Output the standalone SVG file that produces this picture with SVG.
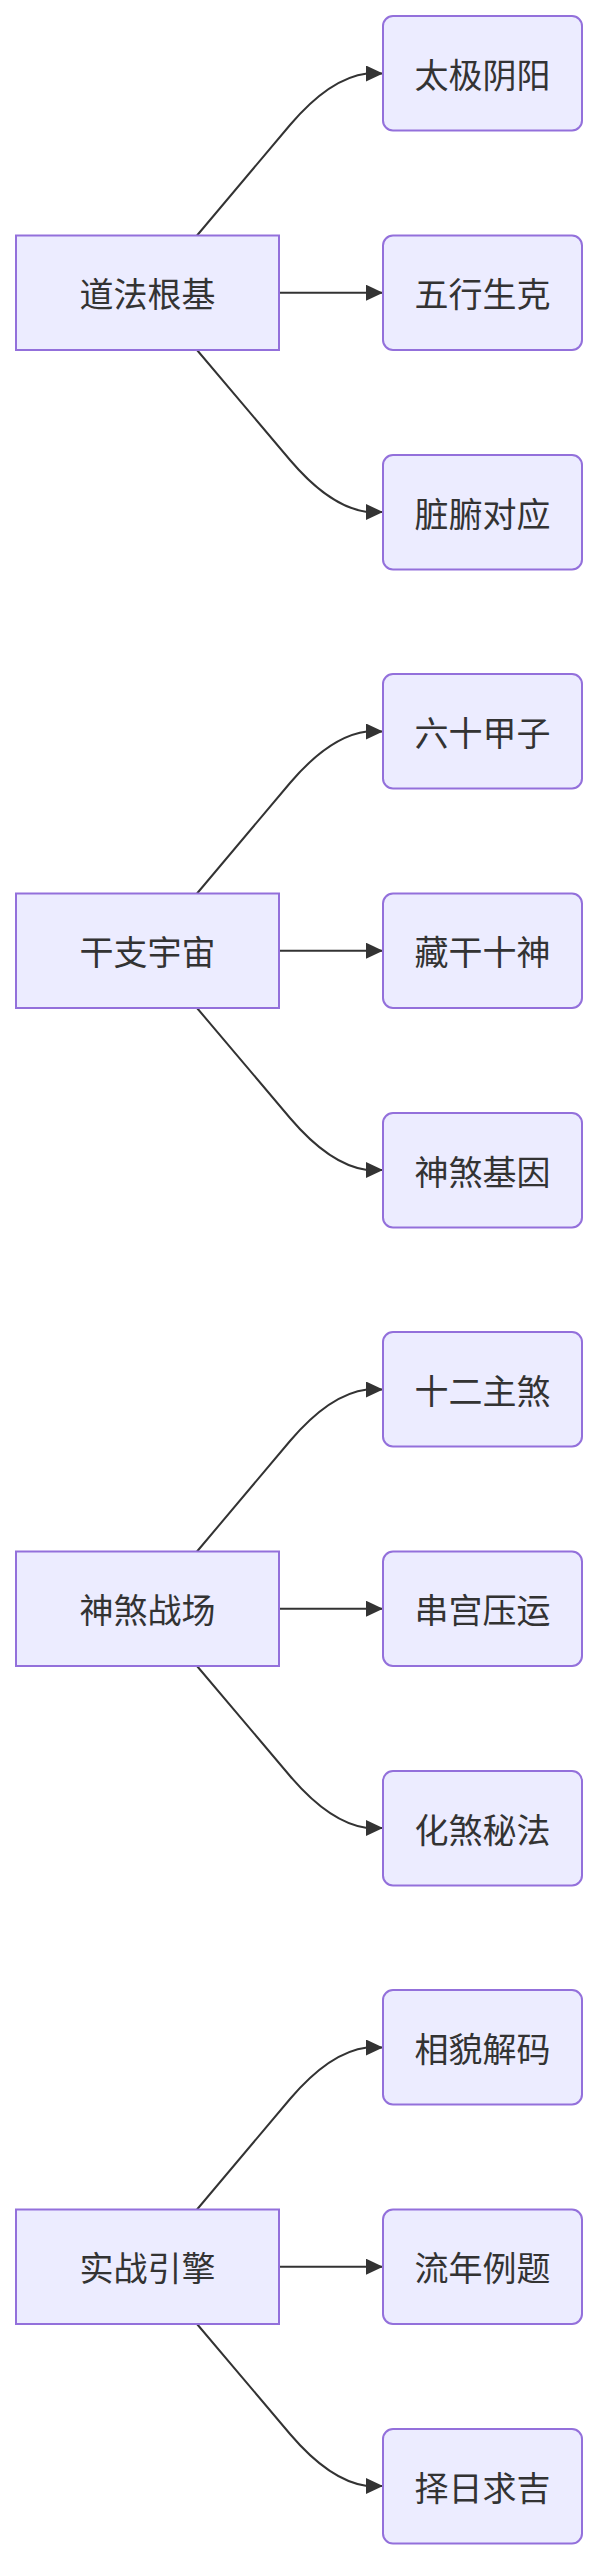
<svg xmlns="http://www.w3.org/2000/svg" width="599" height="2560" viewBox="0 0 599 2560">
<style>
.bg{fill:#ffffff}
.main{fill:#ECECFF;stroke:#9370DB;stroke-width:2}
.sub{fill:#ECECFF;stroke:#9370DB;stroke-width:2}
.lbl{font-family:"Noto Sans CJK SC","Noto Sans",sans-serif;font-size:34px;fill:#333333;text-anchor:middle;dominant-baseline:central}
.edge{fill:none;stroke:#333333;stroke-width:2;marker-end:url(#arrow)}
</style>
<defs>
<marker id="arrow" markerUnits="userSpaceOnUse" markerWidth="17" markerHeight="16" viewBox="0 0 17 16" refX="17" refY="8" orient="auto">
<path d="M0,0 L17,8 L0,16 z" fill="#333333"/>
</marker>
</defs>
<rect class="bg" x="0" y="0" width="599" height="2560"/>
<g id="connectors">
<path class="edge" d="M197,235.5 L290,125 Q330,78 367,73.5 L383,73.5"/>
<path class="edge" d="M279,292.7 L383,292.7"/>
<path class="edge" d="M197,350 L290,460 Q330,507 367,512 L383,512"/>
<path class="edge" d="M197,893.5 L290,783 Q330,736 367,731.5 L383,731.5"/>
<path class="edge" d="M279,950.7 L383,950.7"/>
<path class="edge" d="M197,1008 L290,1118 Q330,1165 367,1170 L383,1170"/>
<path class="edge" d="M197,1551.5 L290,1441 Q330,1394 367,1389.5 L383,1389.5"/>
<path class="edge" d="M279,1608.7 L383,1608.7"/>
<path class="edge" d="M197,1666 L290,1776 Q330,1823 367,1828 L383,1828"/>
<path class="edge" d="M197,2209.5 L290,2099 Q330,2052 367,2047.5 L383,2047.5"/>
<path class="edge" d="M279,2266.7 L383,2266.7"/>
<path class="edge" d="M197,2324 L290,2434 Q330,2481 367,2486 L383,2486"/>
</g>
<g id="n1"><rect class="main" x="16" y="235.5" width="263" height="114.5"/><text class="lbl" x="147.5" y="292.7">道法根基</text></g>
<g id="n1a"><rect class="sub" x="383" y="16" width="199" height="114.5" rx="10"/><text class="lbl" x="482.5" y="73.2">太极阴阳</text></g>
<g id="n1b"><rect class="sub" x="383" y="235.5" width="199" height="114.5" rx="10"/><text class="lbl" x="482.5" y="292.7">五行生克</text></g>
<g id="n1c"><rect class="sub" x="383" y="455" width="199" height="114.5" rx="10"/><text class="lbl" x="482.5" y="512.2">脏腑对应</text></g>
<g id="n2"><rect class="main" x="16" y="893.5" width="263" height="114.5"/><text class="lbl" x="147.5" y="950.7">干支宇宙</text></g>
<g id="n2a"><rect class="sub" x="383" y="674" width="199" height="114.5" rx="10"/><text class="lbl" x="482.5" y="731.2">六十甲子</text></g>
<g id="n2b"><rect class="sub" x="383" y="893.5" width="199" height="114.5" rx="10"/><text class="lbl" x="482.5" y="950.7">藏干十神</text></g>
<g id="n2c"><rect class="sub" x="383" y="1113" width="199" height="114.5" rx="10"/><text class="lbl" x="482.5" y="1170.2">神煞基因</text></g>
<g id="n3"><rect class="main" x="16" y="1551.5" width="263" height="114.5"/><text class="lbl" x="147.5" y="1608.7">神煞战场</text></g>
<g id="n3a"><rect class="sub" x="383" y="1332" width="199" height="114.5" rx="10"/><text class="lbl" x="482.5" y="1389.2">十二主煞</text></g>
<g id="n3b"><rect class="sub" x="383" y="1551.5" width="199" height="114.5" rx="10"/><text class="lbl" x="482.5" y="1608.7">串宫压运</text></g>
<g id="n3c"><rect class="sub" x="383" y="1771" width="199" height="114.5" rx="10"/><text class="lbl" x="482.5" y="1828.2">化煞秘法</text></g>
<g id="n4"><rect class="main" x="16" y="2209.5" width="263" height="114.5"/><text class="lbl" x="147.5" y="2266.7">实战引擎</text></g>
<g id="n4a"><rect class="sub" x="383" y="1990" width="199" height="114.5" rx="10"/><text class="lbl" x="482.5" y="2047.2">相貌解码</text></g>
<g id="n4b"><rect class="sub" x="383" y="2209.5" width="199" height="114.5" rx="10"/><text class="lbl" x="482.5" y="2266.7">流年例题</text></g>
<g id="n4c"><rect class="sub" x="383" y="2429" width="199" height="114.5" rx="10"/><text class="lbl" x="482.5" y="2486.2">择日求吉</text></g>
</svg>
